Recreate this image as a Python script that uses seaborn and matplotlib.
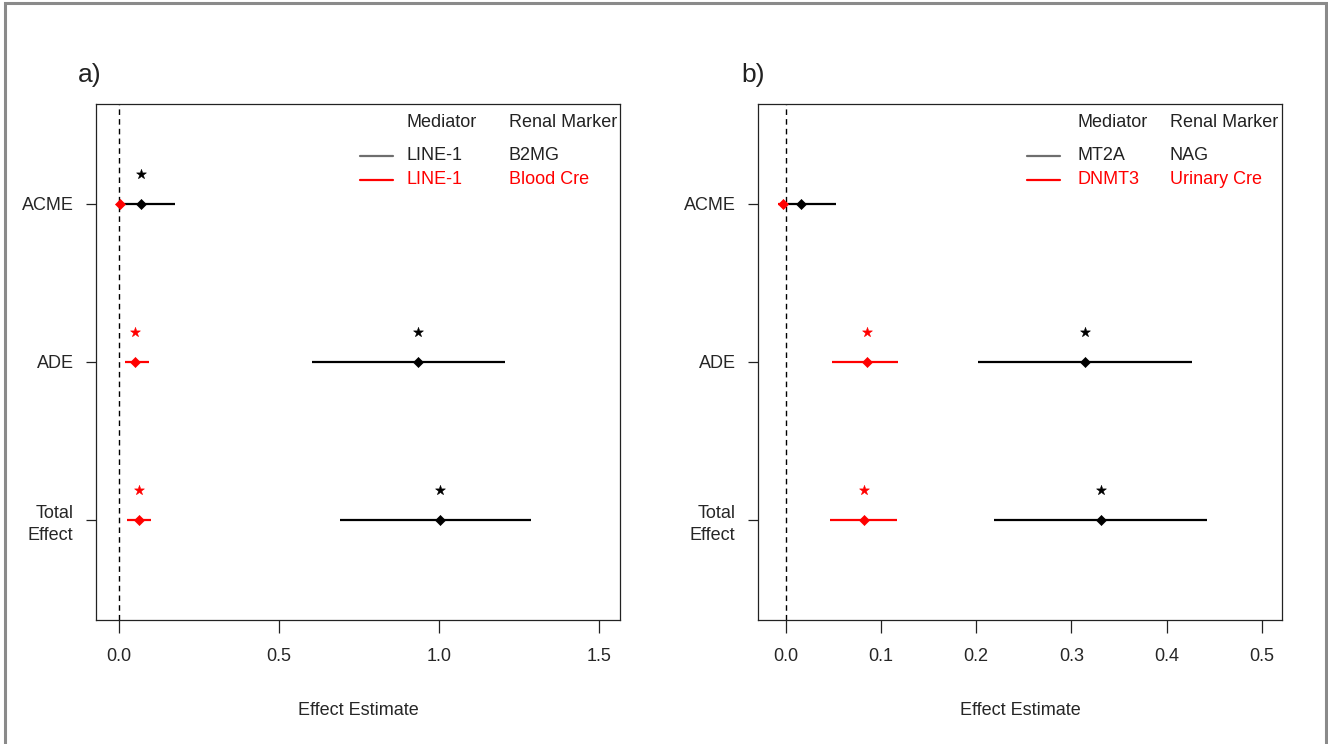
import matplotlib
matplotlib.use("Agg")
import matplotlib.pyplot as plt
import seaborn as sns
import pandas as pd
from matplotlib.patches import Rectangle

sns.set_style("white")
plt.rcParams["font.family"] = ["Liberation Sans", "DejaVu Sans"]

# Effects estimated by the mediation models
effects = ["ACME", "ADE", "Total\nEffect"]

# Panel a: mediator LINE-1
a_black_est = [0.069, 0.934, 1.005]
a_black_lo = [0.009, 0.604, 0.691]
a_black_hi = [0.174, 1.206, 1.288]
a_black_sig = [True, True, True]

a_red_est = [0.003, 0.051, 0.061]
a_red_lo = [-0.002, 0.020, 0.024]
a_red_hi = [0.008, 0.093, 0.099]
a_red_sig = [False, True, True]

# Panel b: mediators MT2A and DNMT3
b_black_est = [0.016, 0.314, 0.331]
b_black_lo = [0.002, 0.202, 0.219]
b_black_hi = [0.0525, 0.427, 0.442]
b_black_sig = [False, True, True]

b_red_est = [-0.0025, 0.085, 0.082]
b_red_lo = [-0.008, 0.049, 0.047]
b_red_hi = [0.002, 0.118, 0.117]
b_red_sig = [False, True, True]

a_legend = [("LINE-1", "B2MG"), ("LINE-1", "Blood Cre")]
b_legend = [("MT2A", "NAG"), ("DNMT3", "Urinary Cre")]

a_ticks = [0.0, 0.5, 1.0, 1.5]
b_ticks = [0.0, 0.1, 0.2, 0.3, 0.4, 0.5]

W, H = 1328, 744
fig = plt.figure(figsize=(W / 100, H / 100), dpi=100)

# outer frame around the figure
fig.patches.append(Rectangle((5 / W, -0.01), (1326 - 5) / W, (744 - 3) / H + 0.01,
                             transform=fig.transFigure, fill=False,
                             edgecolor="#8a8a8a", linewidth=2.2, zorder=0))

FS = 13


def panel(ax, series, ticks, xlim, legend, leg_x):
    ypos = [1, 2, 3]
    ax.axvline(0, color="black", linestyle=(0, (4, 3)), linewidth=1, zorder=1)
    for est, lo, hi, sig, col in series:
        df = pd.DataFrame({"est": est, "lo": lo, "hi": hi, "y": ypos, "sig": sig})
        ax.hlines(df["y"], df["lo"], df["hi"], color=col, linewidth=1.6, zorder=2)
        sns.scatterplot(data=df, x="est", y="y", ax=ax, color=col, marker="D",
                        s=26, edgecolor=col, linewidth=0.5, zorder=3, legend=False)
        stars = df[df["sig"]].copy()
        stars["ys"] = stars["y"] - 0.19
        sns.scatterplot(data=stars, x="est", y="ys", ax=ax, color=col, marker="*",
                        s=55, edgecolor=col, linewidth=0.4, zorder=3, legend=False)
    ax.set_xlim(*xlim)
    ax.set_ylim(3.63, 0.37)
    ax.set_xticks(ticks)
    ax.set_xticklabels([f"{t:.1f}" for t in ticks], fontsize=FS)
    ax.set_yticks(ypos)
    ax.set_yticklabels(effects, fontsize=FS, linespacing=1.35)
    ax.tick_params(axis="x", bottom=True, length=9.5, width=0.9, pad=11, color="#222222")
    ax.tick_params(axis="y", left=True, length=7.2, width=0.9, pad=9, color="#222222")
    ax.set_xlabel("Effect Estimate", fontsize=FS, labelpad=26)
    ax.set_ylabel("")
    for sp in ax.spines.values():
        sp.set_color("#222222")
        sp.set_linewidth(0.9)

    # legend with two text columns
    lx0, lx1, mx, rx = leg_x
    ax.text(mx, 0.965, "Mediator", transform=ax.transAxes, fontsize=FS,
            ha="left", va="center", color="#222222")
    ax.text(rx, 0.965, "Renal Marker", transform=ax.transAxes, fontsize=FS,
            ha="left", va="center", color="#222222")
    rows_y = [0.90, 0.853]
    cols = ["#6e6e6e", "red"]
    tcols = ["#222222", "red"]
    for (med, mark), yy, c, tc in zip(legend, rows_y, cols, tcols):
        ax.plot([lx0, lx1], [yy, yy], transform=ax.transAxes, color=c, linewidth=1.6)
        ax.text(mx, yy, med, transform=ax.transAxes, fontsize=FS,
                ha="left", va="center", color=tc)
        ax.text(rx, yy, mark, transform=ax.transAxes, fontsize=FS,
                ha="left", va="center", color=tc)


ax_a = fig.add_axes([96 / W, (H - 620) / H, 524 / W, 516 / H])
ax_b = fig.add_axes([758 / W, (H - 620) / H, 524 / W, 516 / H])

panel(ax_a,
      [(a_black_est, a_black_lo, a_black_hi, a_black_sig, "black"),
       (a_red_est, a_red_lo, a_red_hi, a_red_sig, "red")],
      a_ticks, (-0.072, 1.567), a_legend, (0.504, 0.567, 0.592, 0.788))
panel(ax_b,
      [(b_black_est, b_black_lo, b_black_hi, b_black_sig, "black"),
       (b_red_est, b_red_lo, b_red_hi, b_red_sig, "red")],
      b_ticks, (-0.029, 0.521), b_legend, (0.513, 0.576, 0.609, 0.786))

fig.text(78 / W, 1 - 75 / H, "a)", fontsize=19, ha="left", va="center", color="#222222")
fig.text(741 / W, 1 - 75 / H, "b)", fontsize=19, ha="left", va="center", color="#222222")

fig.savefig("out.png", dpi=100)
